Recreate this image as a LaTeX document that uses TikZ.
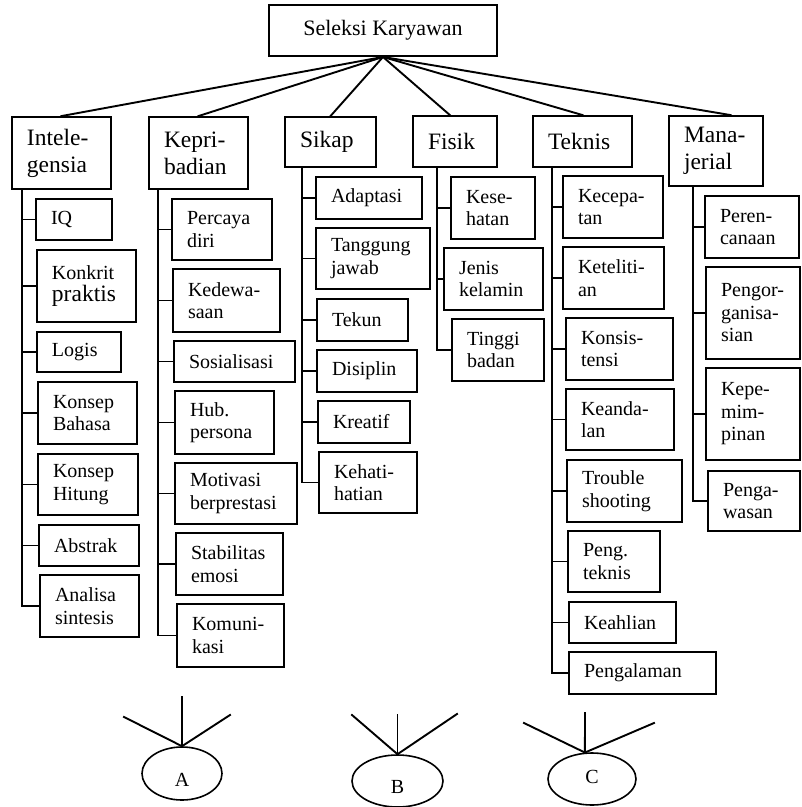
\documentclass[tikz,border=0pt]{standalone}
\usepackage{fontspec}
\setmainfont{Liberation Serif}
\usetikzlibrary{shapes.geometric}
\newcommand\kidfont{\fontsize{20}{22.5}\selectfont\hyphenpenalty=10000}
\newcommand\catfont{\fontsize{23.5}{27}\selectfont\hyphenpenalty=10000}

\begin{document}
\begin{tikzpicture}[x=1pt,y=-1pt,
	box/.style={draw,line width=1.9pt,inner xsep=15pt,inner ysep=0pt,align=left},
	kid/.style={box,font=\kidfont},
	cat/.style={box,font=\catfont},
	link/.style={line width=1.9pt,line cap=rect},
	oval/.style={draw,ellipse,line width=1.6pt,inner sep=0pt,font=\fontsize{20}{24}\selectfont}]
%		\draw[lightgray,step=50] (0,0) grid (802,807);
		\useasboundingbox (0,0) rectangle (802,807);
		\node[box,align=center,font=\fontsize{22}{26}\selectfont,minimum width=228pt,minimum height=51pt] (root) at (383,30.5) {Seleksi Karyawan};
		% kelompok
		\foreach \n/\sx/\xa/\ya/\xb/\yb/\txt in {intel/22/12/117/111/189/{Intele-\\gensia},
			kepri/158/149/117/248/189/{Kepri-\\badian},
			sikap/302/285/117/376/167/Sikap,
			fisik/437/413/116/497/167/Fisik,
			teknis/552/533/116/632/167/Teknis,
			manaj/693/669/116/763/186/{Mana-\\jerial}}{
			\pgfmathsetmacro\cx{(\xa+\xb)/2}
			\pgfmathsetmacro\cy{(\ya+\yb)/2}
			\pgfmathsetmacro\bw{\xb-\xa-30}
			\pgfmathsetmacro\bh{\yb-\ya}
			\node[cat,text width=\bw pt,minimum height=\bh pt] (\n) at (\cx,\cy) {\txt};
			\coordinate (\n-s) at (\sx,\yb);
		}
		\foreach \c/\a in {intel/90,kepri/90,sikap/90,fisik/101,teknis/90,manaj/68}
		\draw[link] (root.south) -- (\c.\a);
		% unsur
		\foreach \n/\p/\xa/\ya/\xb/\yb/\txt in {iq/intel/36/199/112/240/IQ,
			konkrit/intel/37/250/136/322/{Konkrit\\\catfont praktis},
			logis/intel/37/332/121/372/Logis,
			bahasa/intel/38/382/137/444/{Konsep\\Bahasa},
			hitung/intel/38/454/138/515/{Konsep\\Hitung},
			abstrak/intel/39/525/139/566/Abstrak,
			analisa/intel/40/575/139/637/{Analisa\\sintesis},
			percaya/kepri/172/199/272/260/{Percaya\\diri},
			dewasa/kepri/173/269/280/332/{Kedewa-\\saan},
			sosial/kepri/174/341/295/382/Sosialisasi,
			hub/kepri/175/391/274/454/{Hub.\\persona},
			motivasi/kepri/175/463/297/524/{Motivasi\\berprestasi},
			stabil/kepri/176/533/283/595/{Stabilitas\\emosi},
			komuni/kepri/177/604/284/667/{Komuni-\\kasi},
			adaptasi/sikap/316/177/422/219/Adaptasi,
			tanggung/sikap/316/228/430/289/{Tanggung\\jawab},
			tekun/sikap/317/299/408/341/Tekun,
			disiplin/sikap/317/350/417/392/Disiplin,
			kreatif/sikap/318/401/410/443/Kreatif,
			hati/sikap/319/452/417/513/{Kehati-\\hatian},
			sehat/fisik/451/177/535/239/{Kese-\\hatan},
			kelamin/fisik/444/248/543/310/{Jenis\\kelamin},
			tinggi/fisik/452/319/544/381/{Tinggi\\badan},
			cepat/teknis/563/176/663/238/{Kecepa-\\tan},
			teliti/teknis/563/247/664/309/{Keteliti-\\an},
			konsis/teknis/566/318/673/380/{Konsis-\\tensi},
			andal/teknis/566/389/674/450/{Keanda-\\lan},
			trouble/teknis/567/460/682/522/{Trouble\\shooting},
			pteknis/teknis/568/531/660/592/{Peng.\\teknis},
			ahli/teknis/569/602/676/643/Keahlian,
			alaman/teknis/569/652/716/694/Pengalaman,
			rencana/manaj/705/196/799/258/{Peren-\\canaan},
			organ/manaj/706/267/800/359/{Pengor-\\ganisa-\\sian},
			pimpin/manaj/706/368/800/460/{Kepe-\\mim-\\pinan},
			awas/manaj/708/471/800/531/{Penga-\\wasan}}{
			\pgfmathsetmacro\cx{(\xa+\xb)/2}
			\pgfmathsetmacro\cy{(\ya+\yb)/2}
			\pgfmathsetmacro\bw{\xb-\xa-30}
			\pgfmathsetmacro\bh{\yb-\ya}
			\node[kid,text width=\bw pt,minimum height=\bh pt] (\n) at (\cx,\cy) {\txt};
			\draw[link] (\n.west -| \p-s) -- (\n.west);
		}
		\foreach \p/\l in {intel/analisa,kepri/komuni,sikap/hati,fisik/tinggi,teknis/alaman,manaj/awas}
		\draw[link] (\p-s) -- (\p-s |- \l.west);
		% A B C
		\node[oval,minimum width=80pt,minimum height=53pt] (ova) at (182,773.5) {\raisebox{-6pt}[\height][0pt]{A}};
		\node[oval,minimum width=91pt,minimum height=52pt] (ovb) at (397.5,781) {\raisebox{-6pt}[\height][0pt]{B}};
		\node[oval,minimum width=88pt,minimum height=52pt] (ovc) at (592,779) {\raisebox{2pt}[\height][0pt]{C}};
		\foreach \e/\apx/\lx/\ly/\tx/\ty/\rx/\ry in {ova/north/124/717/182/697/230/715,
			ovb/north/352/715/397.5/715/457/714,
			ovc/105/524/723/585/713/654/723}{
			\coordinate (\e-l) at (\lx,\ly);
			\coordinate (\e-t) at (\tx,\ty);
			\coordinate (\e-r) at (\rx,\ry);
			\draw[link] (\e-l) -- (\e.\apx) -- (\e-r);
			\draw[link] (\e.\apx) -- (\e-t);
		}
	\end{tikzpicture}
\end{document}
